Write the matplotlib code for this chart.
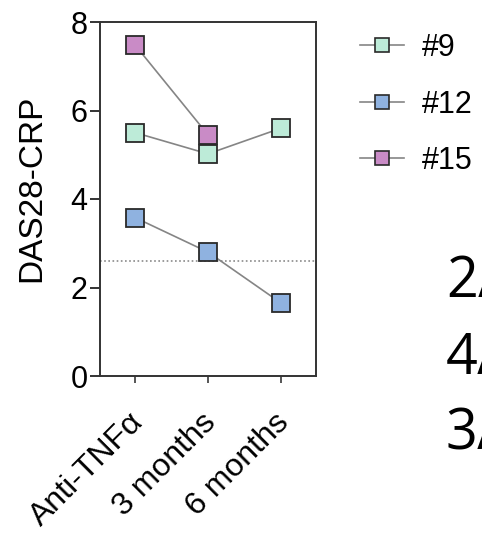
import numpy as np
import matplotlib
matplotlib.use("Agg")
import matplotlib.pyplot as plt
import matplotlib.transforms as mtransforms
from matplotlib.lines import Line2D

plt.rcParams['font.family'] = ['Liberation Sans', 'DejaVu Sans']

timepoints = ['Anti-TNFα', '3 months', '6 months']
patients = ['#9', '#12', '#15']
das28 = {
    '#9': [5.5, 5.02, 5.6],
    '#12': [3.58, 2.8, 1.65],
    '#15': [7.48, 5.45, np.nan],
}
colors = {'#9': '#bdebd8', '#12': '#8fb2e0', '#15': '#c98bc6'}
remission = 2.6
side_notes = ['2/', '4/', '3/']

W, H = 482, 535
fig = plt.figure(figsize=(W / 100, H / 100), dpi=100)
ax = fig.add_axes([100 / W, 159 / H, 216 / W, 354 / H])

x = np.arange(len(timepoints))
# #15 drawn last so it sits on top at 3 months
for p in ['#9', '#12', '#15']:
    y = np.array(das28[p])
    ax.plot(x, y, color='#858585', lw=1.2, zorder=2)
    ax.plot(x, y, ls='none', marker='s', ms=13, mfc=colors[p], mec='#2a2a2a',
            mew=1.3, zorder=3)

ax.axhline(remission, color='#8a8a8a', ls=(0, (1, 1.5)), lw=1.2, zorder=1)

ax.set_xlim(-0.48, 2.48)
ax.set_ylim(0, 8)
ax.set_yticks([0, 2, 4, 6, 8])
ax.set_xticks(x)
ax.tick_params(axis='y', labelsize=22, length=7, width=1.4, color='#333333',
               pad=2)
ax.tick_params(axis='x', length=5, width=1.4, color='#555555', pad=14)
ax.set_xticklabels(timepoints, rotation=45, ha='right', rotation_mode='anchor',
                   fontsize=23)
# nudge the slanted labels left/down
shift = mtransforms.ScaledTranslation(-7 / 100, -5 / 100, fig.dpi_scale_trans)
for lab in ax.get_xticklabels():
    lab.set_transform(lab.get_transform() + shift)
ax.set_ylabel('DAS28-CRP', fontsize=24)
ax.yaxis.set_label_coords(-0.245, 0.531)
for s in ax.spines.values():
    s.set_linewidth(1.4)
    s.set_color('#333333')

handles = [Line2D([0], [0], color='#858585', lw=1.2, marker='s', ms=9.5,
                  mfc=colors[p], mec='#2a2a2a', mew=1.2) for p in patients]
fig.legend(handles, patients, loc='upper left',
           bbox_to_anchor=(360 / W, 1 - 33 / H), frameon=False, borderpad=0,
           borderaxespad=0, fontsize=22, handlelength=1.44, labelspacing=0.87,
           handletextpad=0.6)

for i, note in enumerate(side_notes):
    fig.text(446 / W, 1 - (297 + 76.5 * i) / H, note, fontsize=40,
             family=['Open Sans', 'DejaVu Sans'], va='baseline', ha='left')

fig.savefig('out.png', dpi=100)
